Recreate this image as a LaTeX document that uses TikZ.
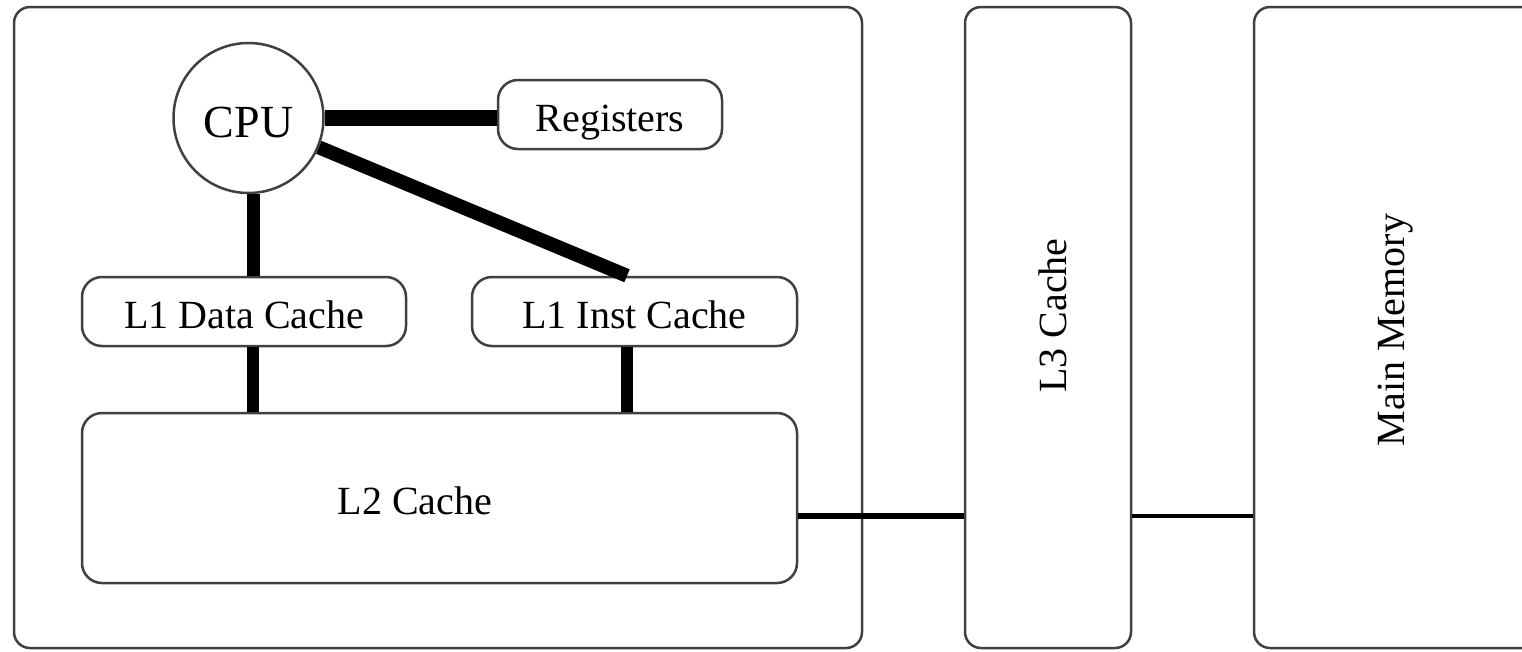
\documentclass[tikz,border=0pt]{standalone}
\usepackage{fontspec}
\setmainfont{Liberation Serif}
\begin{document}
\begin{tikzpicture}[x=1pt,y=-1pt,
  box/.style={draw=black!75, line width=2.5pt, rounded corners=20pt, fill=white, inner sep=0pt, text height=33pt, text depth=0pt, font=\fontsize{40}{48}\selectfont},
  bigbox/.style={draw=black!75, line width=2.5pt, rounded corners=16pt, inner sep=0pt},
  txt/.style={inner sep=0pt, font=\fontsize{40}{48}\selectfont},
  conn/.style={draw=black, line cap=butt}
]
\useasboundingbox (0,0) rectangle (1522,651);
% big containers
\node[bigbox, minimum width=848pt, minimum height=641pt] (chip) at (438,327.5) {};
\node[bigbox, minimum width=166pt, minimum height=641pt] (l3) at (1048,327.5) {};
\node[bigbox, minimum width=320pt, minimum height=641pt] (mm) at (1414,327.5) {};
\node[txt, rotate=90] (l3t) at (1052.5,315.5) {L3 Cache};
\node[txt, rotate=90] (mmt) at (1396,330) {Main Memory};
% inner nodes
\node[circle, draw=black!75, line width=2.5pt, fill=white, minimum size=150pt, inner sep=0pt, text height=38.5pt, text depth=0pt, font=\fontsize{46}{54}\selectfont] (cpu) at (248.5,118) {CPU};
\node[box, minimum width=224pt, minimum height=69pt] (reg) at (610,114.5) {Registers};
\node[box, minimum width=324pt, minimum height=69pt] (l1d) at (244,311.5) {L1 Data Cache};
\node[box, minimum width=325pt, minimum height=69pt] (l1i) at (634.5,311.5) {L1 Inst Cache};
\node[box, minimum width=715pt, minimum height=170pt] (l2) at (439.5,498) {};
\node[txt] (l2t) at (415,501) {L2 Cache};
% helper coordinates
\coordinate (dx) at (253,0);
\coordinate (ix) at (627,0);
\coordinate (hy) at (0,516);
% connectors
\draw[conn, line width=16pt] (cpu.east) -- (cpu.east -| reg.west);
\draw[conn, line width=13pt] (cpu.south -| dx) -- (l1d.north -| dx);
\draw[conn, line width=14pt] (cpu) -- (l1i.north -| ix);
\draw[conn, line width=12pt] (l1d.south -| dx) -- (l2.north -| dx);
\draw[conn, line width=12pt] (l1i.south -| ix) -- (l2.north -| ix);
\draw[conn, line width=5.5pt] (l2.east |- hy) -- (l3.west |- hy);
\draw[conn, line width=3.5pt] (l3.east |- hy) -- (mm.west |- hy);
\end{tikzpicture}
\end{document}
